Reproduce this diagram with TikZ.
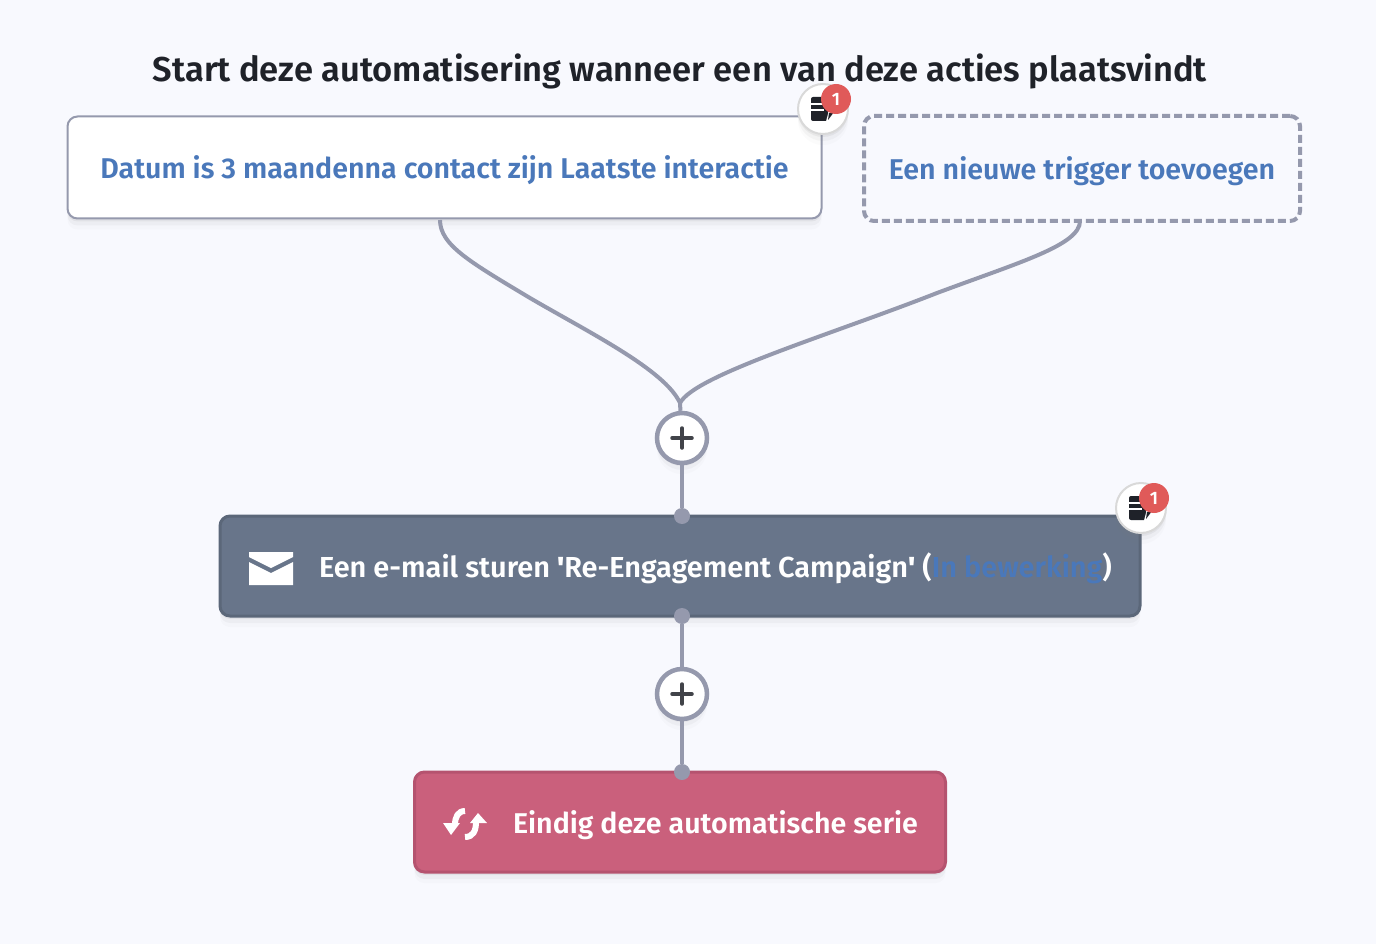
\documentclass[tikz,border=0pt]{standalone}
\usepackage{fontspec}
\setmainfont{Fira Sans}[BoldFont={Fira Sans SemiBold}]
\newfontfamily\plainquote{Fira Sans SemiBold}
\usetikzlibrary{shadows,calc}
\definecolor{pagebg}{HTML}{F8F9FE}
\definecolor{wire}{HTML}{9599AD}
\definecolor{linkblue}{HTML}{4A78BA}
\definecolor{inkdark}{HTML}{1F2229}
\definecolor{slatefill}{HTML}{68758A}
\definecolor{slateedge}{HTML}{5B6779}
\definecolor{rosefill}{HTML}{CA607C}
\definecolor{roseedge}{HTML}{B5536F}
\definecolor{badgered}{HTML}{E05A59}
\newcommand{\straightq}{{\plainquote\char39\relax}}
\tikzset{
    softshadow/.style={
        drop shadow={opacity=0.10,shadow xshift=0pt,shadow yshift=-3pt},
        drop shadow={opacity=0.06,shadow xshift=0pt,shadow yshift=-7pt},
        drop shadow={opacity=0.03,shadow xshift=0pt,shadow yshift=-11pt}},
    stepbox/.style={rounded corners=10pt,line width=3pt,minimum height=100pt,inner sep=0pt,softshadow},
    wireline/.style={wire,line width=4pt},
    plusnode/.style={circle,draw=wire,fill=white,line width=4.5pt,minimum size=50pt,inner sep=0pt,softshadow},
    dotnode/.style={circle,fill=wire,minimum size=16pt,inner sep=0pt},
    notenode/.style={circle,draw=black!15,fill=white,line width=2pt,minimum size=50pt,inner sep=0pt,softshadow},
    badgenode/.style={circle,fill=badgered,text=white,minimum size=30pt,inner sep=0pt,font=\fontsize{18}{18}\selectfont\bfseries},
    boxtext/.style={font=\fontsize{28.6}{32}\selectfont\bfseries}
}
\begin{document}
\begin{tikzpicture}[x=1pt,y=-1pt]
    \useasboundingbox[fill=pagebg] (0,0) rectangle (1376,944);

    \node[inkdark,font=\fontsize{34.5}{38}\selectfont\bfseries] (title) at (680,71) {Start deze automatisering wanneer een van deze acties plaatsvindt};

    % trigger boxes
    \node[stepbox,line width=2pt,draw=wire,fill=white,minimum width=754pt,minimum height=102pt,text=linkblue,boxtext,text depth=0pt] (trigger) at (444.5,167.5) {Datum is 3 maandenna contact zijn Laatste interactie};
    \node[draw=wire,fill=pagebg,dash pattern=on 8pt off 4pt,rounded corners=10pt,line width=4pt,minimum width=436pt,minimum height=105pt,inner sep=0pt,text=linkblue,boxtext,text depth=0pt] (addtrigger) at (1082,168.5) {Een nieuwe trigger toevoegen};

    \coordinate (triggerout) at (440,220);
    \coordinate (addout) at (1080,221);
    \coordinate (merge) at (680,403);

    % step boxes
    \node[stepbox,draw=slateedge,fill=slatefill,minimum width=920pt] (mail) at (680,566) {};
    \node[stepbox,draw=roseedge,fill=rosefill,minimum width=531pt] (finish) at (680,822) {};
    \node[white,anchor=west,font=\fontsize{28.93}{32}\selectfont\bfseries] (mailtext) at (315.5,568) {Een e-mail sturen \straightq Re-Engagement Campaign\straightq{} (\textcolor{linkblue}{In bewerking})};
    \node[white,anchor=west,boxtext] (finishtext) at (509.5,825) {Eindig deze automatische serie};

    \draw[wireline] (triggerout) .. controls (440,245) and (470,262) .. (530,298) .. controls (590,333) and (665,370) .. (merge);
    \draw[wireline] (addout) .. controls (1080,245) and (1020,262) .. (937,293) .. controls (830,335) and (695,375) .. (merge);

    \node[plusnode] (plusA) at (682,438) {};
    \node[plusnode] (plusB) at (682,694) {};
    \node[dotnode] (dotA) at (682,516) {};
    \node[dotnode] (dotB) at (682,616) {};
    \node[dotnode] (dotC) at (682,772) {};

    \draw[wireline] (merge) -- (plusA);
    \draw[wireline] (plusA) -- (dotA);
    \draw[wireline] (dotB) -- (plusB);
    \draw[wireline] (plusB) -- (dotC);

    \foreach \p in {plusA,plusB}{
        \draw[inkdark!85,line width=3.5pt,line cap=round] ($(\p)+(-10,0)$) -- ($(\p)+(10,0)$);
        \draw[inkdark!85,line width=3.5pt,line cap=round] ($(\p)+(0,-10)$) -- ($(\p)+(0,10)$);
    }

    % note icons with badge
    \foreach \n/\x/\y in {noteA/823/109,noteB/1141/508}{
        \node[notenode] (\n) at (\x,\y) {};
        \fill[inkdark,rounded corners=2pt] ($(\n)+(-12,-12)$) rectangle ($(\n)+(5,12)$);
        \fill[white] ($(\n)+(3,12.5)$) -- ($(\n)+(5.5,3)$) -- ($(\n)+(5.5,12.5)$) -- cycle;
        \fill[inkdark] ($(\n)+(5,11)$) -- ($(\n)+(6,4)$) -- ($(\n)+(11,3)$) -- cycle;
        \fill[white] ($(\n)+(-12,-6)$) rectangle ($(\n)+(1,-4)$);
        \fill[white] ($(\n)+(-12,0)$) rectangle ($(\n)+(1,2)$);
        \node[badgenode] (\n badge) at ($(\n)+(13,-10)$) {1};
    }

    % envelope
    \fill[white] (249,552) -- (293,552) -- (293,557) -- (271,568) -- (249,557) -- cycle;
    \fill[white] (249,562) -- (271,573) -- (293,562) -- (293,585) -- (249,585) -- cycle;

    % loop arrows
    \draw[white,line width=6pt] (465,811) .. controls (458,811) and (455,817) .. (455,825);
    \fill[white] (443,823) -- (460,823) -- (451,835) -- cycle;
    \draw[white,line width=6pt] (465,837) .. controls (473,837) and (476,831) .. (476,822);
    \fill[white] (470,823) -- (487,823) -- (478,813) -- cycle;
\end{tikzpicture}
\end{document}
